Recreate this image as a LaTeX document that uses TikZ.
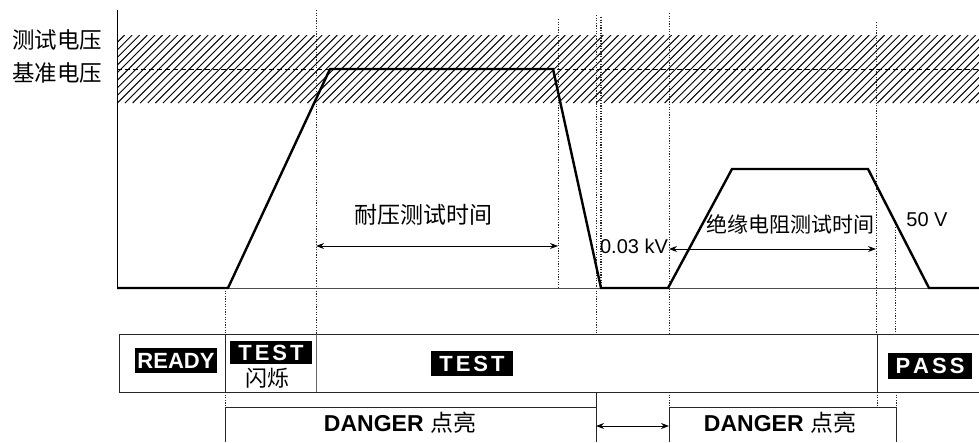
\documentclass[tikz,border=0pt]{standalone}
\usepackage{fontspec}
\setmainfont{Liberation Sans}
\newfontfamily\cjk{Noto Sans CJK SC}
\usetikzlibrary{arrows.meta}
\begin{document}
\begin{tikzpicture}[x=1pt,y=-1pt,
  wave/.style={line width=2.4pt, line join=miter},
  guide/.style={line width=0.6pt, dash pattern=on 1.2pt off 1.4pt, black!85},
  frame/.style={line width=0.9pt, black!85},
  dim/.style={line width=1pt, {Stealth[length=8pt,width=6pt]}-{Stealth[length=8pt,width=6pt]}},
  badge/.style={fill=black, text=white, font=\fontsize{22}{22}\selectfont\bfseries, inner sep=0pt},
  cjklbl/.style={inner sep=0pt},
  num/.style={font=\fontsize{20}{20}\selectfont, inner sep=0pt}
]
\useasboundingbox (0,0) rectangle (979,442);

% hatched band
\begin{scope}
  \clip (117,35) rectangle (979,103);
  \foreach \i in {0,...,125} \draw[line width=0.95pt] ({49+\i*7.6},103) -- ++(68,-68);
\end{scope}
\draw[line width=0.8pt, dash pattern=on 5pt off 3pt] (117,69) -- (979,69);

% guide lines (dotted)
\draw[guide] (225,288) -- (225,334);
\draw[guide] (225,392) -- (225,407);
\draw[guide] (316,10) -- (316,334);
\draw[guide] (558,19) -- (558,288);
\draw[guide] (596,15) -- (596,334);
\draw[guide, line width=1.3pt] (601,17) -- (601,288);
\draw[guide] (669,13) -- (669,334);
\draw[guide] (669,392) -- (669,407);
\draw[guide] (876,22) -- (876,334);
\draw[guide] (877,392) -- (877,407);
\draw[guide] (895,227) -- (895,334);
\draw[guide] (896,392) -- (896,407);

% axes
\coordinate (axtop) at (117,10);
\coordinate (org) at (117,288);
\coordinate (bend) at (979,288);
\draw[line width=0.6pt, black!70] (org) -- (bend);
\draw[line width=1pt] (axtop) -- (org);

% waveform
\coordinate (p1) at (228,288);
\coordinate (p2) at (330,69);
\coordinate (p3) at (553,69);
\coordinate (p4) at (601,288);
\coordinate (p5) at (668,288);
\coordinate (p6) at (732,169);
\coordinate (p7) at (868,169);
\coordinate (p8) at (929,288);
\draw[wave] (org) -- (p1) -- (p2) -- (p3) -- (p4) -- (p5) -- (p6) -- (p7) -- (p8) -- (bend);

% left labels
\node[cjklbl, anchor=west, font=\fontsize{22.5}{22.5}\selectfont\cjk] (vtest) at (12,40) {测试电压};
\node[cjklbl, anchor=west, font=\fontsize{22.5}{22.5}\selectfont\cjk] (vref) at (12,73) {基准电压};

% time spans
\coordinate (wa) at (316,246);
\coordinate (wb) at (558,246);
\draw[dim] (wa) -- (wb);
\node[cjklbl, font=\fontsize{23}{23}\selectfont\cjk] (wlbl) at (423,215) {耐压测试时间};

\coordinate (ia) at (669,249);
\coordinate (ib) at (876,249);
\draw[dim] (ia) -- (ib);
\node[cjklbl, font=\fontsize{21}{21}\selectfont\cjk] (ilbl) at (790,224) {绝缘电阻测试时间};

\node[num] (kv) at (634,246) {0.03 kV};
\node[num] (fiftyv) at (927,220) {50 V};

% status bar
\draw[frame] (979,334) -- (119,334) -- (119,392) -- (979,392);
\draw[frame] (225,334) -- (225,392);
\draw[frame, black!60] (316,334) -- (316,392);
\draw[frame] (877,334) -- (877,392);

\node[badge, minimum width=82pt, minimum height=25pt] (ready) at (176,360.5) {READY};
\node[badge, minimum width=82pt, minimum height=23pt] (test1) at (271,352.5) {T\kern3pt E\kern3pt S\kern3pt T};
\node[cjklbl, font=\fontsize{22}{22}\selectfont\cjk] (blink) at (267,378) {闪烁};
\node[badge, minimum width=82pt, minimum height=25pt] (test2) at (472,363.5) {T\kern3pt E\kern3pt S\kern3pt T\hspace{9pt}};
\node[badge, minimum width=84pt, minimum height=26pt] (pass) at (930,366) {P\kern3pt A\kern3pt S\kern3pt S};

% danger bars
\draw[frame] (225,442) -- (225,407) -- (596,407);
\draw[frame] (596,392) -- (596,442);
\draw[frame] (669,442) -- (669,407) -- (896,407) -- (896,442);
\node[cjklbl, font=\fontsize{23}{23}\selectfont] (d1) at (400,423) {\bfseries DANGER {\mdseries\cjk 点亮}};
\node[cjklbl, font=\fontsize{23}{23}\selectfont] (d2) at (780,423) {\bfseries DANGER {\mdseries\cjk 点亮}};
\coordinate (ga) at (596,426);
\coordinate (gb) at (669,426);
\draw[dim] (ga) -- (gb);
\end{tikzpicture}
\end{document}
